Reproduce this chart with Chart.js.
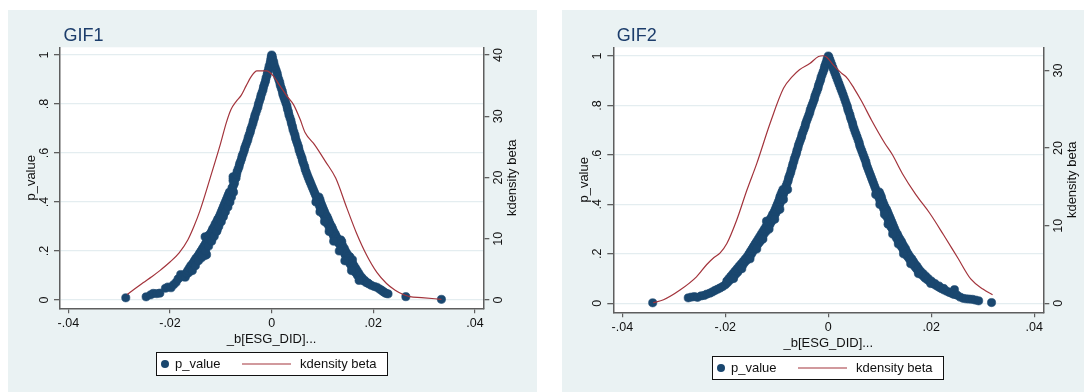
<!DOCTYPE html>
<html><head><meta charset="utf-8">
<script src="https://cdn.jsdelivr.net/npm/chart.js@4.4.0/dist/chart.umd.min.js"></script>
<style>
html,body{margin:0;padding:0;background:#fff;width:1084px;height:392px;overflow:hidden}
.panel{position:absolute;background:#eaf2f3}
canvas{display:block}
</style></head><body>
<div class="panel" style="left:8px;top:10px;width:529px;height:382px"><canvas id="c1" width="529" height="382"></canvas></div>
<div class="panel" style="left:562px;top:10px;width:522px;height:382px"><canvas id="c2" width="522" height="382"></canvas></div>
<script>
// ---------- tick labels ----------
const xTicks = [-0.04, -0.02, 0, 0.02, 0.04];
const xTickLabels = ['-.04', '-.02', '0', '.02', '.04'];
const pTicks = [0, 0.2, 0.4, 0.6, 0.8, 1];
const pTickLabels = ['0', '.2', '.4', '.6', '.8', '1'];
const kd1Ticks = [0, 10, 20, 30, 40];
const kd2Ticks = [0, 10, 20, 30];
const titles = ['GIF1', 'GIF2'];
const xTitle = '_b[ESG_DID]...';
const yTitle = 'p_value';
const y2Title = 'kdensity beta';

// ---------- GIF1: [beta, p_value] ----------
const gif1Points = [
[-0.0287,0.009],[-0.0247,0.013],[-0.0238,0.021],[-0.0233,0.027],[-0.0226,0.026],[-0.0220,0.028],
[-0.0209,0.048],[-0.0204,0.053],[-0.0198,0.050],[-0.0193,0.062],[-0.0188,0.072],[-0.0184,0.086],
[-0.0179,0.104],[-0.0175,0.095],[-0.0170,0.093],[-0.0167,0.106],[-0.0163,0.112],[-0.0160,0.122],
[-0.0157,0.130],[-0.0154,0.138],[-0.0151,0.147],[-0.0148,0.158],[-0.0145,0.166],[-0.0141,0.176],
[-0.0138,0.172],[-0.0136,0.190],[-0.0131,0.182],[-0.0128,0.185],[-0.0133,0.200],[-0.0130,0.212],
[-0.0127,0.222],[-0.0124,0.233],[-0.0121,0.245],[-0.0117,0.252],[-0.0131,0.258],[-0.0125,0.262],
[-0.0114,0.262],[-0.0118,0.270],[-0.0112,0.280],[-0.0107,0.288],[-0.0109,0.298],[-0.0104,0.308],
[-0.0101,0.318],[-0.0103,0.328],[-0.0098,0.338],[-0.0095,0.348],[-0.0093,0.358],[-0.0096,0.368],
[-0.0090,0.378],[-0.0087,0.388],[-0.0089,0.398],[-0.0085,0.408],[-0.0082,0.418],[-0.0084,0.428],
[-0.0080,0.438],[-0.0077,0.448],[-0.0078,0.458],[-0.0075,0.468],[-0.0073,0.478],[-0.0076,0.488],
[-0.0076,0.503],[-0.0070,0.498],[-0.0069,0.512],[-0.0068,0.524],[-0.0066,0.534],[-0.0064,0.545],
[-0.0063,0.556],[-0.0061,0.566],[-0.0059,0.578],[-0.0058,0.588],[-0.0056,0.598],[-0.0054,0.610],
[-0.0053,0.620],[-0.0051,0.631],[-0.0049,0.642],[-0.0047,0.653],[-0.0046,0.664],[-0.0044,0.675],
[-0.0042,0.686],[-0.0041,0.697],[-0.0039,0.708],[-0.0037,0.720],[-0.0036,0.731],[-0.0034,0.742],
[-0.0033,0.753],[-0.0031,0.764],[-0.0029,0.776],[-0.0027,0.788],[-0.0026,0.800],[-0.0024,0.812],
[-0.0022,0.824],[-0.0021,0.835],[-0.0019,0.846],[-0.0017,0.858],[-0.0016,0.870],[-0.0014,0.882],
[-0.0012,0.894],[-0.0011,0.906],[-0.0009,0.918],[-0.0008,0.930],[-0.0006,0.942],[-0.0005,0.954],
[-0.0003,0.966],[-0.0002,0.978],[-0.0001,0.990],[0.0000,1.000],
// left band, outer edge
[-0.0168,0.11],[-0.0165,0.12],[-0.0162,0.13],[-0.0159,0.14],[-0.0155,0.15],[-0.0152,0.16],
[-0.0149,0.17],[-0.0145,0.18],[-0.0142,0.19],[-0.0139,0.20],[-0.0136,0.21],[-0.0133,0.22],
[-0.0130,0.23],[-0.0127,0.24],[-0.0125,0.25],[-0.0123,0.26],[-0.0121,0.27],[-0.0118,0.28],
[-0.0116,0.29],[-0.0113,0.30],[-0.0111,0.31],[-0.0108,0.32],[-0.0106,0.33],[-0.0103,0.34],
[-0.0101,0.35],[-0.0099,0.36],[-0.0097,0.37],[-0.0095,0.38],[-0.0093,0.39],[-0.0091,0.40],
[-0.0089,0.41],[-0.0087,0.42],[-0.0085,0.43],[-0.0083,0.44],
// left band, inner edge
[-0.0156,0.12],[-0.0150,0.14],[-0.0144,0.16],[-0.0137,0.18],[-0.0130,0.20],[-0.0124,0.22],
[-0.0118,0.24],[-0.0113,0.26],[-0.0108,0.28],[-0.0104,0.30],[-0.0099,0.32],[-0.0095,0.34],
[-0.0091,0.36],[-0.0086,0.38],[-0.0082,0.40],[-0.0079,0.42],[-0.0075,0.44],
// right branch
[0.0001,0.995],[0.0002,0.984],[0.0004,0.972],[0.0005,0.960],[0.0007,0.948],[0.0009,0.936],
[0.0011,0.924],[0.0012,0.912],[0.0014,0.900],[0.0016,0.888],[0.0017,0.876],[0.0019,0.864],
[0.0021,0.852],[0.0022,0.840],[0.0024,0.828],[0.0026,0.816],[0.0028,0.804],[0.0030,0.792],
[0.0031,0.780],[0.0033,0.768],[0.0034,0.756],[0.0036,0.744],[0.0038,0.732],[0.0039,0.720],
[0.0041,0.708],[0.0042,0.696],[0.0044,0.684],[0.0046,0.672],[0.0047,0.660],[0.0049,0.648],
[0.0051,0.636],[0.0053,0.624],[0.0054,0.612],[0.0056,0.600],[0.0058,0.588],[0.0060,0.577],
[0.0061,0.566],[0.0063,0.555],[0.0065,0.544],[0.0066,0.533],[0.0068,0.522],[0.0070,0.511],
[0.0072,0.500],[0.0074,0.490],[0.0076,0.480],[0.0078,0.470],[0.0080,0.460],[0.0082,0.450],
[0.0084,0.440],[0.0086,0.430],[0.0088,0.420],[0.0090,0.410],[0.0092,0.398],[0.0094,0.385],
[0.0096,0.373],[0.0099,0.362],[0.0101,0.351],[0.0104,0.340],[0.0106,0.330],[0.0108,0.320],
[0.0110,0.310],[0.0113,0.300],[0.0115,0.290],[0.0117,0.280],[0.0120,0.270],[0.0122,0.260],
[0.0125,0.250],[0.0128,0.242],[0.0136,0.245],[0.0138,0.238],[0.0131,0.234],[0.0134,0.226],
[0.0137,0.218],[0.0139,0.208],[0.0142,0.198],[0.0144,0.188],[0.0146,0.178],[0.0148,0.168],
[0.0154,0.176],[0.0159,0.164],[0.0151,0.158],[0.0154,0.148],[0.0157,0.138],[0.0160,0.128],
[0.0163,0.118],[0.0166,0.110],[0.0169,0.100],[0.0173,0.092],[0.0177,0.085],[0.0181,0.078],
[0.0186,0.071],[0.0191,0.066],[0.0196,0.060],[0.0202,0.055],[0.0207,0.052],[0.0212,0.045],
[0.0216,0.040],[0.0219,0.035],[0.0222,0.031],[0.0225,0.027],[0.0229,0.025],[0.0264,0.0136],
[0.0334,0.0027],
// right band, outer edge
[0.0093,0.42],[0.0095,0.41],[0.0096,0.40],[0.0098,0.39],[0.0100,0.38],[0.0102,0.37],
[0.0104,0.36],[0.0106,0.35],[0.0109,0.34],[0.0111,0.33],[0.0113,0.32],[0.0115,0.31],
[0.0118,0.30],[0.0120,0.29],[0.0122,0.28],[0.0125,0.27],[0.0127,0.26],[0.0130,0.25],
[0.0133,0.24],[0.0137,0.23],[0.0140,0.22],[0.0143,0.21],[0.0145,0.20],[0.0148,0.19],
[0.0151,0.18],[0.0153,0.17],[0.0156,0.16],[0.0159,0.15],[0.0162,0.14],[0.0165,0.13],
[0.0168,0.12],[0.0171,0.11],[0.0174,0.10],[0.0178,0.09],[0.0183,0.08],[0.0189,0.07],
// right band, inner edge
[0.0087,0.40],[0.0095,0.36],[0.0104,0.32],[0.0113,0.28],[0.0122,0.24],[0.0133,0.20],
[0.0144,0.16],[0.0157,0.12],[0.0172,0.08]
];
// GIF1 kdensity: [beta, density]
const gif1Kd = [
[-0.0284,0.9],[-0.0253,2.8],[-0.0236,3.8],[-0.0220,4.8],[-0.0200,6.2],[-0.0182,7.7],[-0.0165,9.8],
[-0.0153,12.0],[-0.0141,14.6],[-0.0121,19.9],[-0.0101,25.4],[-0.0089,29.0],[-0.0080,31.1],
[-0.0070,32.4],[-0.0060,33.4],[-0.0050,35.0],[-0.0040,36.5],[-0.0029,37.4],[-0.0010,37.4],
[0.0003,36.6],[0.0016,35.0],[0.0030,33.3],[0.0043,31.9],[0.0056,29.5],[0.0066,27.3],
[0.0085,25.3],[0.0106,22.6],[0.0126,19.9],[0.0148,15.0],[0.0167,10.9],[0.0187,7.3],
[0.0207,4.5],[0.0226,2.7],[0.0243,1.6],[0.0259,0.9],[0.0272,0.55],[0.0295,0.4],[0.0334,0.1]
];

// ---------- GIF2: [beta, p_value] ----------
const gif2Points = [
[-0.0341,0.002],[-0.0272,0.022],[-0.0266,0.025],[-0.0260,0.027],[-0.0254,0.024],[-0.0247,0.030],
[-0.0241,0.032],[-0.0236,0.037],[-0.0230,0.041],[-0.0225,0.046],[-0.0220,0.052],[-0.0215,0.057],
[-0.0210,0.062],[-0.0205,0.068],[-0.0200,0.075],[-0.0196,0.083],[-0.0192,0.092],[-0.0188,0.100],
[-0.0184,0.108],[-0.0180,0.117],[-0.0176,0.126],[-0.0173,0.136],[-0.0170,0.146],[-0.0166,0.155],
[-0.0163,0.164],[-0.0159,0.173],[-0.0156,0.182],[-0.0152,0.190],[-0.0149,0.200],[-0.0146,0.210],
[-0.0143,0.220],[-0.0140,0.230],[-0.0137,0.238],[-0.0134,0.246],[-0.0131,0.254],[-0.0128,0.262],
[-0.0130,0.272],[-0.0125,0.280],[-0.0121,0.290],[-0.0119,0.300],[-0.0116,0.310],[-0.0113,0.320],
[-0.0120,0.332],[-0.0110,0.331],[-0.0108,0.342],[-0.0105,0.353],[-0.0102,0.364],[-0.0099,0.375],
[-0.0097,0.386],[-0.0095,0.397],[-0.0093,0.408],[-0.0091,0.419],[-0.0089,0.430],[-0.0087,0.441],
[-0.0085,0.452],[-0.0083,0.463],[-0.0082,0.474],[-0.0080,0.485],[-0.0078,0.496],[-0.0077,0.507],
[-0.0075,0.518],[-0.0073,0.529],[-0.0072,0.540],[-0.0070,0.551],[-0.0069,0.562],[-0.0067,0.573],
[-0.0066,0.584],[-0.0064,0.595],[-0.0062,0.606],[-0.0061,0.617],[-0.0059,0.628],[-0.0058,0.639],
[-0.0056,0.650],[-0.0054,0.661],[-0.0052,0.672],[-0.0051,0.683],[-0.0049,0.694],[-0.0047,0.705],
[-0.0045,0.716],[-0.0044,0.727],[-0.0042,0.738],[-0.0040,0.749],[-0.0038,0.760],[-0.0036,0.771],
[-0.0035,0.782],[-0.0033,0.793],[-0.0031,0.804],[-0.0029,0.815],[-0.0027,0.826],[-0.0026,0.837],
[-0.0024,0.848],[-0.0022,0.859],[-0.0020,0.870],[-0.0019,0.881],[-0.0017,0.892],[-0.0015,0.903],
[-0.0014,0.914],[-0.0012,0.925],[-0.0010,0.936],[-0.0008,0.947],[-0.0007,0.958],[-0.0005,0.969],
[-0.0003,0.980],[-0.0002,0.990],[0.0000,1.000],
// left band, outer edge
[-0.0197,0.09],[-0.0193,0.10],[-0.0189,0.11],[-0.0185,0.12],[-0.0181,0.13],[-0.0177,0.14],
[-0.0173,0.15],[-0.0169,0.16],[-0.0165,0.17],[-0.0161,0.18],[-0.0157,0.19],[-0.0154,0.20],
[-0.0151,0.21],[-0.0148,0.22],[-0.0145,0.23],[-0.0142,0.24],[-0.0139,0.25],[-0.0136,0.26],
[-0.0133,0.27],[-0.0130,0.28],[-0.0127,0.29],[-0.0124,0.30],[-0.0121,0.31],[-0.0118,0.32],
[-0.0116,0.33],[-0.0113,0.34],[-0.0110,0.35],[-0.0108,0.36],[-0.0105,0.37],[-0.0103,0.38],
[-0.0101,0.39],[-0.0099,0.40],[-0.0097,0.41],[-0.0095,0.42],[-0.0094,0.43],[-0.0092,0.44],
[-0.0090,0.45],[-0.0088,0.46],
// left band, inner edge
[-0.0184,0.10],[-0.0168,0.14],[-0.0152,0.18],[-0.0139,0.22],[-0.0127,0.26],[-0.0115,0.30],
[-0.0104,0.34],[-0.0094,0.38],[-0.0087,0.42],[-0.0079,0.46],
// right branch
[0.0001,0.995],[0.0003,0.985],[0.0005,0.974],[0.0007,0.963],[0.0009,0.952],[0.0011,0.941],
[0.0013,0.930],[0.0015,0.919],[0.0017,0.908],[0.0019,0.897],[0.0021,0.886],[0.0023,0.875],
[0.0025,0.864],[0.0027,0.853],[0.0029,0.842],[0.0031,0.830],[0.0033,0.818],[0.0035,0.806],
[0.0037,0.795],[0.0038,0.784],[0.0040,0.773],[0.0042,0.762],[0.0043,0.751],[0.0045,0.740],
[0.0047,0.729],[0.0048,0.718],[0.0050,0.706],[0.0052,0.694],[0.0054,0.683],[0.0056,0.672],
[0.0058,0.660],[0.0060,0.649],[0.0061,0.638],[0.0063,0.627],[0.0065,0.616],[0.0067,0.605],
[0.0069,0.594],[0.0071,0.583],[0.0073,0.572],[0.0074,0.561],[0.0076,0.550],[0.0078,0.539],
[0.0080,0.528],[0.0082,0.517],[0.0084,0.506],[0.0086,0.495],[0.0088,0.484],[0.0090,0.473],
[0.0092,0.462],[0.0094,0.451],[0.0096,0.440],[0.0098,0.429],[0.0100,0.418],[0.0102,0.407],
[0.0105,0.396],[0.0107,0.385],[0.0109,0.374],[0.0111,0.363],[0.0113,0.352],[0.0116,0.341],
[0.0118,0.330],[0.0120,0.319],[0.0122,0.308],[0.0125,0.297],[0.0127,0.286],[0.0130,0.275],
[0.0132,0.265],[0.0135,0.256],[0.0137,0.247],[0.0140,0.238],[0.0142,0.229],[0.0145,0.220],
[0.0147,0.211],[0.0150,0.202],[0.0152,0.194],[0.0155,0.186],[0.0158,0.178],[0.0161,0.170],
[0.0163,0.162],[0.0166,0.154],[0.0169,0.146],[0.0172,0.138],[0.0175,0.130],[0.0178,0.123],
[0.0181,0.116],[0.0185,0.109],[0.0188,0.102],[0.0192,0.096],[0.0196,0.090],[0.0200,0.084],
[0.0204,0.079],[0.0208,0.074],[0.0212,0.069],[0.0216,0.064],[0.0220,0.059],[0.0225,0.054],
[0.0230,0.049],[0.0235,0.044],[0.0240,0.040],[0.0245,0.055],[0.0244,0.036],[0.0250,0.033],
[0.0256,0.025],[0.0262,0.020],[0.0268,0.018],[0.0274,0.017],[0.0280,0.016],[0.0286,0.013],
[0.0292,0.010],[0.0317,0.003],
// right band, outer edge
[0.0099,0.45],[0.0101,0.44],[0.0103,0.43],[0.0104,0.42],[0.0106,0.41],[0.0108,0.40],
[0.0110,0.39],[0.0113,0.38],[0.0115,0.37],[0.0117,0.36],[0.0119,0.35],[0.0121,0.34],
[0.0123,0.33],[0.0125,0.32],[0.0127,0.31],[0.0129,0.30],[0.0131,0.29],[0.0134,0.28],
[0.0136,0.27],[0.0139,0.26],[0.0142,0.25],[0.0144,0.24],[0.0147,0.23],[0.0150,0.22],
[0.0152,0.21],[0.0155,0.20],[0.0158,0.19],[0.0162,0.18],[0.0165,0.17],[0.0168,0.16],
[0.0172,0.15],[0.0175,0.14],[0.0179,0.13],[0.0184,0.12],[0.0189,0.11],[0.0194,0.10],
[0.0200,0.09],[0.0207,0.08],[0.0215,0.07],[0.0224,0.06],
// right band, inner edge
[0.0092,0.44],[0.0100,0.40],[0.0109,0.36],[0.0116,0.32],[0.0125,0.28],[0.0136,0.24],
[0.0146,0.20],[0.0160,0.16],[0.0175,0.12],[0.0199,0.08]
];
// GIF2 kdensity: [beta, density]
const gif2Kd = [
[-0.0340,0.08],[-0.0320,0.45],[-0.0288,1.7],[-0.0256,3.4],[-0.0236,5.0],[-0.0222,5.9],
[-0.0210,6.5],[-0.0197,7.7],[-0.0178,10.7],[-0.0158,14.6],[-0.0139,18.0],[-0.0113,23.2],
[-0.0087,27.7],[-0.0070,29.2],[-0.0056,30.1],[-0.0036,30.9],[-0.0019,31.8],[-0.0010,31.9],
[-0.0003,31.7],[0.0010,30.7],[0.0025,29.7],[0.0037,29.0],[0.0050,27.7],[0.0065,26.0],
[0.0084,23.6],[0.0110,20.6],[0.0124,19.2],[0.0144,16.7],[0.0170,14.0],[0.0197,11.6],
[0.0224,8.8],[0.0251,5.9],[0.0277,3.1],[0.0301,1.8],[0.0319,1.1]
];

// ---------- styling ----------
const NAVY = '#1a476f', MAROON = '#a3343c', AXIS = '#5e5e5e', GRID = '#e4edf0';
const FONT = '"Liberation Sans", Arial, Helvetica, sans-serif';

function drawRot(ctx, text, x, y){
  ctx.save(); ctx.translate(x, y); ctx.rotate(-Math.PI/2); ctx.fillText(text, 0, 0); ctx.restore();
}

function stataPlugin(cfg){
  return {
    id: 'stata' + cfg.title,
    beforeDraw(chart){
      const {ctx, chartArea: a} = chart;
      ctx.save(); ctx.fillStyle = '#ffffff';
      ctx.fillRect(a.left, a.top, a.right - a.left, a.bottom - a.top);
      ctx.restore();
    },
    afterDraw(chart){
      const {ctx, chartArea: a} = chart;
      const yl = chart.scales.y, yr = chart.scales.y2;
      ctx.save();
      // title
      ctx.fillStyle = '#1c3d6b';
      ctx.font = '18px ' + FONT;
      ctx.textAlign = 'left'; ctx.textBaseline = 'alphabetic';
      ctx.fillText(cfg.title, a.left + 3.5, 31);
      // y tick labels (rotated)
      ctx.fillStyle = '#111';
      ctx.font = '12.5px ' + FONT;
      ctx.textAlign = 'center'; ctx.textBaseline = 'middle';
      pTicks.forEach((v, i) => drawRot(ctx, pTickLabels[i], a.left - 15.5, yl.getPixelForValue(v)));
      cfg.kdTicks.forEach(v => drawRot(ctx, String(v), a.right + 15, yr.getPixelForValue(v)));
      // axis titles
      ctx.font = '13px ' + FONT;
      const cy = (a.top + a.bottom) / 2, cx = (a.left + a.right) / 2;
      drawRot(ctx, yTitle, a.left - 29, cy);
      drawRot(ctx, y2Title, a.right + 29, cy);
      ctx.fillText(xTitle, cx, a.bottom + 31);
      // legend
      const lw = 232, lh = 24, lx = Math.round(cx - lw / 2), ly = Math.round(a.bottom + 44);
      ctx.fillStyle = '#fff'; ctx.fillRect(lx, ly, lw, lh);
      ctx.strokeStyle = '#111'; ctx.lineWidth = 1; ctx.strokeRect(lx + 0.5, ly + 0.5, lw - 1, lh - 1);
      const my = ly + lh / 2;
      ctx.fillStyle = NAVY; ctx.beginPath(); ctx.arc(lx + 9, my, 4.0, 0, Math.PI * 2); ctx.fill();
      ctx.strokeStyle = MAROON; ctx.lineWidth = 1.2; ctx.beginPath(); ctx.moveTo(lx + 86, my); ctx.lineTo(lx + 135, my); ctx.stroke();
      ctx.fillStyle = '#111'; ctx.textAlign = 'left'; ctx.font = '13px ' + FONT;
      ctx.fillText(chart.data.datasets[0].label, lx + 19, my + 0.5);
      ctx.fillText(chart.data.datasets[1].label, lx + 144, my + 0.5);
      ctx.restore();
    }
  };
}

function makeChart(id, cfg){
  return new Chart(document.getElementById(id), {
    type: 'scatter',
    data: { datasets: [
      { type: 'scatter', label: 'p_value', data: cfg.points.map(d => ({x: d[0], y: d[1]})),
        xAxisID: 'x', yAxisID: 'y', pointRadius: 4.1, pointHoverRadius: 4.1,
        pointBackgroundColor: NAVY, pointBorderColor: NAVY, pointBorderWidth: 0.6, order: 2 },
      { type: 'line', label: 'kdensity beta', data: cfg.kd.map(d => ({x: d[0], y: d[1]})),
        xAxisID: 'x', yAxisID: 'y2', borderColor: MAROON, borderWidth: 1.2, pointRadius: 0,
        cubicInterpolationMode: 'monotone', fill: false, order: 1 }
    ]},
    options: {
      responsive: false, animation: false, devicePixelRatio: 1,
      layout: { padding: { top: cfg.top, left: 0, right: 0, bottom: 0 } },
      plugins: { legend: { display: false }, tooltip: { enabled: false }, title: { display: false } },
      scales: {
        x: { type: 'linear', position: 'bottom', min: -cfg.xLim, max: cfg.xLim,
          afterBuildTicks: s => { s.ticks = xTicks.map(v => ({value: v})); },
          afterFit: s => { s.height = cfg.xH; s.paddingLeft = 0; s.paddingRight = 0; },
          ticks: { callback: (v, i) => xTickLabels[i], color: '#111', padding: 3, maxRotation: 0, minRotation: 0, autoSkip: false,
                   font: { family: FONT, size: 12.5 } },
          grid: { drawOnChartArea: false, drawTicks: true, tickLength: 5, tickColor: AXIS, lineWidth: 1.2 },
          border: { display: true, color: AXIS, width: 1.5 } },
        y: { type: 'linear', position: 'left', min: cfg.pMin, max: cfg.pMax,
          afterBuildTicks: s => { s.ticks = pTicks.map(v => ({value: v})); },
          afterFit: s => { s.width = cfg.yLW; s.paddingTop = 0; s.paddingBottom = 0; },
          ticks: { display: false },
          grid: { drawOnChartArea: true, color: GRID, lineWidth: 1.3, drawTicks: true, tickLength: 6, tickColor: AXIS },
          border: { display: true, color: AXIS, width: 1.5 } },
        y2: { type: 'linear', position: 'right', min: cfg.kMin, max: cfg.kMax,
          afterBuildTicks: s => { s.ticks = cfg.kdTicks.map(v => ({value: v})); },
          afterFit: s => { s.width = cfg.yRW; s.paddingTop = 0; s.paddingBottom = 0; },
          ticks: { display: false },
          grid: { drawOnChartArea: false, drawTicks: true, tickLength: 6, tickColor: AXIS, lineWidth: 1.3 },
          border: { display: true, color: AXIS, width: 1.5 } }
      }
    },
    plugins: [stataPlugin(cfg)]
  });
}

makeChart('c1', { title: titles[0], points: gif1Points, kd: gif1Kd, kdTicks: kd1Ticks,
  top: 37.3, xH: 83.7, yLW: 52, yRW: 53.7, xLim: 0.04164,
  pMin: -0.0339, pMax: 1.0314, kMin: -1.355, kMax: 41.26 });
makeChart('c2', { title: titles[1], points: gif2Points, kd: gif2Kd, kdTicks: kd2Ticks,
  top: 37.3, xH: 79.7, yLW: 51.3, yRW: 40.7, xLim: 0.04175,
  pMin: -0.0364, pMax: 1.0352, kMin: -1.16, kMax: 32.99 });
</script>
</body></html>
